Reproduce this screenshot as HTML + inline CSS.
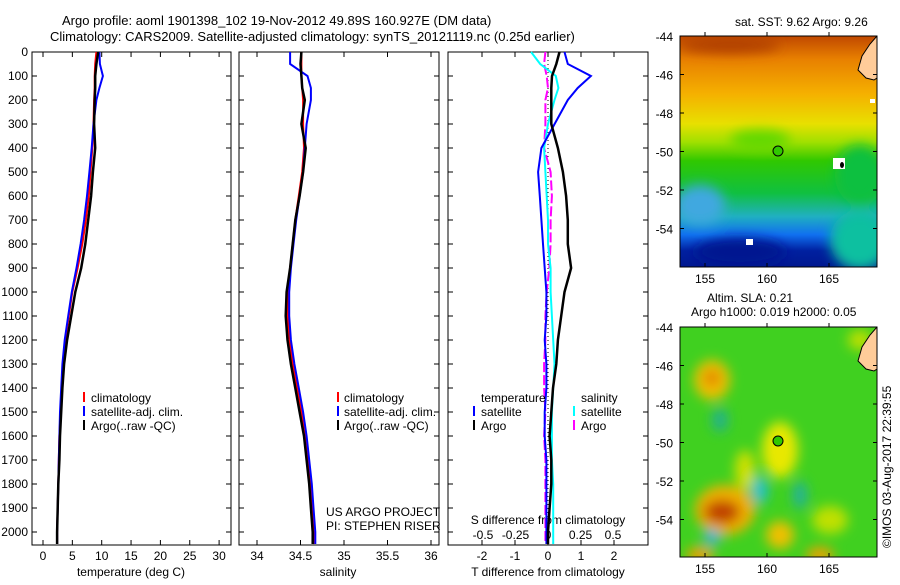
<!DOCTYPE html>
<html><head><meta charset="utf-8"><style>
body{margin:0;background:#fff;width:900px;height:580px;overflow:hidden;font-family:"Liberation Sans",sans-serif}
svg text{font-family:"Liberation Sans",sans-serif;font-size:12px;fill:#000}
</style></head><body>
<svg id="c" width="900" height="580" xmlns="http://www.w3.org/2000/svg">
<defs>
<linearGradient id="sst" x1="0" y1="0" x2="0" y2="1">
<stop offset="0" stop-color="#c04800"/><stop offset="0.1" stop-color="#e88000"/><stop offset="0.25" stop-color="#f5b000"/><stop offset="0.38" stop-color="#e8e000"/><stop offset="0.46" stop-color="#a0e000"/><stop offset="0.54" stop-color="#30c800"/><stop offset="0.68" stop-color="#10c040"/><stop offset="0.78" stop-color="#20b0c0"/><stop offset="0.86" stop-color="#1070f0"/><stop offset="0.93" stop-color="#0020a0"/><stop offset="1" stop-color="#001890"/>
</linearGradient>
<filter id="bl"><feGaussianBlur stdDeviation="6"/></filter>
<clipPath id="m1"><rect x="680" y="36" width="197" height="231"/></clipPath>
<clipPath id="m2"><rect x="680" y="327" width="197" height="230"/></clipPath>
</defs>
<text x="62" y="25" style="font-size:13px">Argo profile: aoml 1901398_102 19-Nov-2012 49.89S 160.927E (DM data)</text>
<text x="50" y="41" style="font-size:13px">Climatology: CARS2009. Satellite-adjusted climatology: synTS_20121119.nc (0.25d earlier)</text>
<g id="panels"></g>
<g>
<text x="735" y="26">sat. SST: 9.62  Argo: 9.26</text>
<g clip-path="url(#m1)">
<rect x="680" y="36" width="197" height="231" fill="url(#sst)"/>
<g filter="url(#bl)">
<ellipse cx="860" cy="175" rx="25" ry="30" fill="#10c040"/>
<ellipse cx="700" cy="205" rx="25" ry="20" fill="#40a8e0"/>
<ellipse cx="740" cy="252" rx="45" ry="14" fill="#001890"/>
<ellipse cx="860" cy="240" rx="30" ry="30" fill="#10c0a0"/>
<ellipse cx="760" cy="140" rx="30" ry="10" fill="#60d800"/>
<ellipse cx="730" cy="45" rx="50" ry="8" fill="#b04000"/>
</g>
<path d="M877,36 L870,44 L862,56 L858,70 L866,78 L874,80 L877,78 Z" fill="#ffcc99" stroke="#000" stroke-width="1"/>
<rect x="870" y="99" width="5" height="4" fill="#fff"/>
<rect x="833" y="158" width="12" height="11" fill="#fff"/>
<ellipse cx="842" cy="165" rx="2" ry="3" fill="#000"/>
<rect x="746" y="239" width="7" height="6" fill="#fff"/>
</g>
<rect x="680" y="36" width="197" height="231" fill="none" stroke="#000"/>
<circle cx="778" cy="151" r="5" fill="#30c800" stroke="#000"/>
</g>
<g>
<text x="707" y="302">Altim. SLA: 0.21</text>
<text x="691" y="316">Argo h1000: 0.019 h2000: 0.05</text>
<g clip-path="url(#m2)">
<rect x="680" y="327" width="197" height="230" fill="#40d020"/>
<g filter="url(#bl)">
<ellipse cx="712" cy="380" rx="18" ry="20" fill="#f0c000"/>
<ellipse cx="712" cy="378" rx="8" ry="8" fill="#e08000"/>
<ellipse cx="780" cy="450" rx="18" ry="28" fill="#e8e800"/>
<ellipse cx="725" cy="510" rx="30" ry="25" fill="#f0b000"/>
<ellipse cx="722" cy="512" rx="18" ry="12" fill="#c04000"/>
<ellipse cx="745" cy="470" rx="10" ry="20" fill="#d0e000"/>
<ellipse cx="780" cy="535" rx="14" ry="14" fill="#f0c000"/>
<ellipse cx="820" cy="555" rx="14" ry="8" fill="#f0a000"/>
<ellipse cx="700" cy="555" rx="14" ry="8" fill="#f0a000"/>
<ellipse cx="760" cy="490" rx="8" ry="14" fill="#20c0d0"/>
<ellipse cx="712" cy="537" rx="8" ry="8" fill="#20b0e0"/>
<ellipse cx="800" cy="495" rx="7" ry="14" fill="#20b0a0"/>
<ellipse cx="720" cy="420" rx="8" ry="12" fill="#20b090"/>
<ellipse cx="860" cy="340" rx="12" ry="10" fill="#c0e000"/>
<ellipse cx="830" cy="520" rx="18" ry="14" fill="#c0e000"/>
</g>
<path d="M877,327 L870,335 L862,347 L858,361 L866,369 L874,371 L877,369 Z" fill="#ffcc99" stroke="#000" stroke-width="1"/>
</g>
<rect x="680" y="327" width="197" height="230" fill="none" stroke="#000"/>
<circle cx="778" cy="441" r="5" fill="#30c800" stroke="#000"/>
</g>
<text transform="translate(891,548) rotate(-90)">©IMOS 03-Aug-2017 22:39:55</text>
</svg>
<script>
// ---- data ----
const depths      = [0,50,100,150,200,300,400,500,600,700,800,900,1000,1100,1200,1300,1400,1500,1600,1700,1800,1900,2000,2050];
const tempClim    = [9.1,8.9,8.8,8.8,8.7,8.6,8.4,8.1,7.8,7.3,6.7,5.9,5.0,4.4,3.8,3.4,3.2,3.0,2.8,2.7,2.6,2.5,2.4,2.4];
const tempSat     = [9.6,9.7,10.2,9.6,9.1,8.6,8.3,7.9,7.5,7.0,6.4,5.7,4.9,4.3,3.7,3.3,3.1,2.9,2.8,2.7,2.6,2.5,2.4,2.4];
const tempArgo    = [9.4,9.1,8.9,8.9,8.8,8.7,8.9,8.5,8.2,7.7,7.2,6.5,5.5,4.8,4.1,3.6,3.3,3.1,2.9,2.8,2.6,2.5,2.4,2.4];
const salClim     = [34.51,34.51,34.51,34.52,34.53,34.53,34.54,34.52,34.48,34.44,34.41,34.38,34.35,34.35,34.37,34.41,34.46,34.51,34.55,34.58,34.61,34.63,34.65,34.66];
const salSat      = [34.38,34.38,34.58,34.62,34.62,34.57,34.55,34.53,34.49,34.45,34.42,34.39,34.37,34.37,34.39,34.43,34.48,34.53,34.57,34.60,34.63,34.65,34.67,34.67];
const salArgo     = [34.51,34.50,34.51,34.52,34.55,34.51,34.56,34.53,34.49,34.44,34.41,34.38,34.34,34.33,34.35,34.39,34.44,34.49,34.54,34.57,34.60,34.62,34.64,34.64];
const dTsat       = [0.5,0.6,1.3,0.9,0.6,0.2,-0.2,-0.3,-0.25,-0.2,-0.15,-0.1,-0.05,-0.05,-0.1,-0.05,-0.05,-0.1,-0.1,-0.05,-0.05,-0.05,-0.05,-0.05];
const dTargo      = [0.35,0.25,0.12,0.1,0.1,0.1,0.3,0.45,0.55,0.6,0.6,0.7,0.5,0.4,0.3,0.25,0.15,0.1,0.05,0.1,0.1,0.05,0.0,0.0];
const dSsat       = [-0.13,-0.06,0.06,0.08,0.05,0.0,-0.03,-0.02,-0.01,0.0,0.0,0.02,0.02,0.03,0.04,0.05,0.04,0.03,0.03,0.03,0.04,0.04,0.04,0.04];
const dSargo      = [-0.02,-0.03,-0.01,0.0,-0.02,-0.02,-0.03,0.02,0.03,0.02,0.02,0.01,-0.01,-0.02,-0.02,-0.03,-0.03,-0.02,-0.03,-0.02,-0.02,-0.02,-0.02,-0.02];
const depthTicks  = [0,100,200,300,400,500,600,700,800,900,1000,1100,1200,1300,1400,1500,1600,1700,1800,1900,2000];
const tempTicks   = [0,5,10,15,20,25,30];
const salTicks    = [34,34.5,35,35.5,36];
const dTTicks     = [-2,-1,0,1,2];
const dSTicks     = [-0.5,-0.25,0,0.25,0.5];
const sstLatTicks = [-44,-46,-48,-50,-52,-54];
const lonTicks    = [155,160,165];

const NS='http://www.w3.org/2000/svg';
const svg=document.getElementById('c');
const g=document.getElementById('panels');
function el(t,a,p){const e=document.createElementNS(NS,t);for(const k in a)e.setAttribute(k,a[k]);(p||g).appendChild(e);return e;}
const top0=52,bot=545;
const yD=d=>top0+d*0.24;
const xT=v=>43+v*5.87;
const xS=v=>257+(v-34)*87;
const xDT=v=>548+v*33;
const xDS=v=>548+v*130;

function panel(x0,x1,name){
  const r=el('rect',{x:x0,y:top0,width:x1-x0,height:bot-top0,fill:'none',stroke:'#000'});
  
  
  depthTicks.forEach(d=>{
    el('line',{x1:x0,x2:x0+5,y1:yD(d),y2:yD(d),stroke:'#000'});
    el('line',{x1:x1-5,x2:x1,y1:yD(d),y2:yD(d),stroke:'#000'});
  });
}
function xticks(ticks,f,name,ylab){
  ticks.forEach(t=>{
    el('line',{x1:f(t),x2:f(t),y1:bot,y2:bot-5,stroke:'#000'});
    el('line',{x1:f(t),x2:f(t),y1:top0,y2:top0+5,stroke:'#000'});
    const tx=el('text',{x:f(t),y:ylab,'text-anchor':'middle'});
    tx.textContent=t;
    
    
  });
}
function line(xs,f,color,name,w,dash){
  const d=depths.map((dp,i)=>(i?'L':'M')+f(xs[i]).toFixed(1)+','+yD(dp).toFixed(1)).join(' ');
  const p=el('path',{d:d,fill:'none',stroke:color,'stroke-width':w||2});
  if(dash)p.setAttribute('stroke-dasharray',dash);
  
  
}
function txt(x,y,s,name,anchor){const t=el('text',{x:x,y:y});if(anchor)t.setAttribute('text-anchor',anchor);t.textContent=s;return t;}
function legMark(x,y,c){el('rect',{x:x,y:y-10,width:2,height:10,fill:c});}

panel(32,231,'temperature-panel');
depthTicks.forEach(d=>{txt(28,yD(d)+4,d,'depth-tick-label','end');});
xticks(tempTicks,xT,'temperature-axis',560);
txt(131,576,'temperature (deg C)','temperature-axis-title','middle');
line(tempClim,xT,'#f00','temperature-climatology-line');
line(tempSat,xT,'#00f','temperature-satellite-line');
line(tempArgo,xT,'#000','temperature-argo-line',2.5);
legMark(83,402,'#f00');txt(91,402,'climatology','legend-climatology');
legMark(83,416,'#00f');txt(91,416,'satellite-adj. clim.','legend-satellite');
legMark(83,430,'#000');txt(91,430,'Argo(..raw -QC)','legend-argo');

panel(239,439,'salinity-panel');
xticks(salTicks,xS,'salinity-axis',560);
txt(338,576,'salinity','salinity-axis-title','middle');
line(salClim,xS,'#f00','salinity-climatology-line');
line(salSat,xS,'#00f','salinity-satellite-line');
line(salArgo,xS,'#000','salinity-argo-line',2.5);
legMark(337,402,'#f00');txt(344,402,'climatology','legend-climatology');
legMark(337,416,'#00f');txt(344,416,'satellite-adj. clim.','legend-satellite');
legMark(337,430,'#000');txt(344,430,'Argo(..raw -QC)','legend-argo');
txt(326,516,'US ARGO PROJECT','project-credit');
txt(326,530,'PI: STEPHEN RISER','pi-credit');

panel(448,648,'difference-panel');
el('line',{x1:xDT(0),x2:xDT(0),y1:top0,y2:bot,stroke:'#000','stroke-dasharray':'1,3'});
dTTicks.forEach(t=>{
  el('line',{x1:xDT(t),x2:xDT(t),y1:bot,y2:bot-5,stroke:'#000'});
  el('line',{x1:xDT(t),x2:xDT(t),y1:top0,y2:top0+5,stroke:'#000'});
  txt(xDT(t),560,t,'t-diff-tick-label','middle');
});
dSTicks.forEach(t=>{txt(xDS(t),539,t,'s-diff-tick-label','middle');});
txt(548,576,'T difference from climatology','t-diff-axis-title','middle');
txt(548,524,'S difference from climatology','s-diff-axis-title','middle');
line(dSargo,xDS,'#f0f','salinity-diff-argo-line',2,'10,3');
line(dSsat,xDS,'#0ff','salinity-diff-satellite-line');
line(dTsat,xDT,'#00f','temperature-diff-satellite-line');
line(dTargo,xDT,'#000','temperature-diff-argo-line',2.5);
txt(481,402,'temperature','legend-temperature-header');
legMark(473,416,'#00f');txt(481,416,'satellite','legend-t-satellite');
legMark(473,430,'#000');txt(481,430,'Argo','legend-t-argo');
txt(581,402,'salinity','legend-salinity-header');
legMark(573,416,'#0ff');txt(581,416,'satellite','legend-s-satellite');
legMark(573,430,'#f0f');txt(581,430,'Argo','legend-s-argo');

const yLat1=v=>36+(-44-v)*19.25;
const yLat2=v=>327+(-44-v)*19.25;
const xLon=v=>705+(v-155)*12.4;
[[yLat1,36,267],[yLat2,327,557]].forEach(([fy,t0,b0])=>{
  sstLatTicks.forEach(v=>{
    el('line',{x1:680,x2:684,y1:fy(v),y2:fy(v),stroke:'#000'},svg);
    el('line',{x1:873,x2:877,y1:fy(v),y2:fy(v),stroke:'#000'},svg);
    const t=el('text',{x:673,y:fy(v)+5,'text-anchor':'end'},svg);t.textContent=v;
    
    
  });
  lonTicks.forEach(v=>{
    el('line',{x1:xLon(v),x2:xLon(v),y1:b0,y2:b0-4,stroke:'#000'},svg);
    el('line',{x1:xLon(v),x2:xLon(v),y1:t0,y2:t0-4,stroke:'#000'},svg);
    const t=el('text',{x:xLon(v),y:b0+16,'text-anchor':'middle'},svg);t.textContent=v;
    
    
  });
});
</script>
</body></html>
